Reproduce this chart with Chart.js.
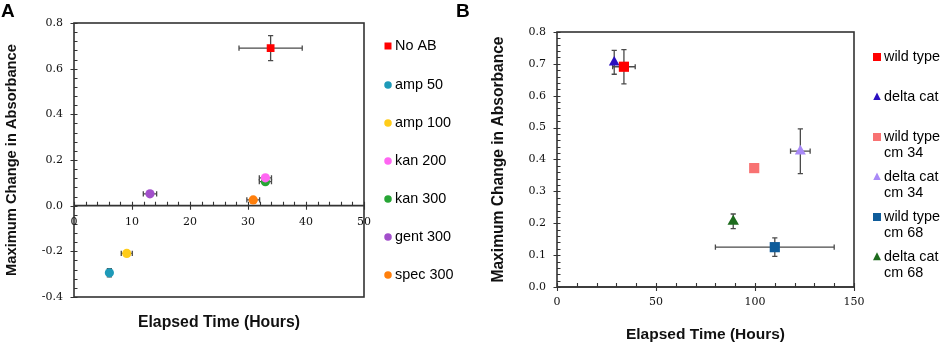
<!DOCTYPE html>
<html><head><meta charset="utf-8">
<script src="https://cdn.jsdelivr.net/npm/chart.js@4"></script>
<style>
html,body{margin:0;padding:0;background:#fff;width:941px;height:346px;overflow:hidden;}
#wa{position:absolute;left:0;top:0;width:470px;height:346px;}
#wb{position:absolute;left:470px;top:0;width:471px;height:346px;}
.panel{position:absolute;font:bold 19px "Liberation Sans",Arial,sans-serif;color:#000;line-height:19px;}
</style></head><body>
<div id="wa"><canvas id="ca" width="470" height="346"></canvas></div>
<div id="wb"><canvas id="cb" width="471" height="346"></canvas></div>
<div class="panel" style="left:1px;top:1px">A</div>
<div class="panel" style="left:456px;top:1px">B</div>
<script>
// ---------- Panel A data ----------
const aLabels = ['No AB', 'amp 50', 'amp 100', 'kan 200', 'kan 300', 'gent 300', 'spec 300'];
const aTime = [33.9, 6.1, 9.1, 33.0, 33.0, 13.1, 30.9];
const aAbs = [0.690, -0.294, -0.209, 0.122, 0.105, 0.052, 0.025];
const aTimeErr = [5.45, 0, 0.95, 1.05, 1.05, 1.15, 1.1];
const aAbsErr = [0.055, 0.018, 0.012, 0, 0, 0, 0];
const aXTicks = [0, 10, 20, 30, 40, 50];
const aYTicks = [-0.4, -0.2, 0.0, 0.2, 0.4, 0.6, 0.8];

// ---------- Panel B data ----------
const bLabels = [['wild type'], ['delta cat'], ['wild type', 'cm 34'], ['delta cat', 'cm 34'], ['wild type', 'cm 68'], ['delta cat', 'cm 68']];
const bTime = [33.8, 28.9, 99.6, 122.9, 110.0, 89.0];
const bAbs = [0.691, 0.705, 0.373, 0.426, 0.125, 0.206];
const bTimeErr = [5.7, 0, 0, 4.95, 30, 0];
const bAbsErr = [0.054, 0.0375, 0, 0.07, 0.029, 0.023];
const bXTicks = [0, 50, 100, 150];
const bYTicks = [0.0, 0.1, 0.2, 0.3, 0.4, 0.5, 0.6, 0.7, 0.8];

// ---------- styles ----------
const aColors = ['#FF0000', '#1E9AB8', '#FFCC1A', '#FF66F2', '#27A535', '#A24FCB', '#FF7F0C'];
const aShapes = ['rect', 'circle', 'circle', 'circle', 'circle', 'circle', 'circle'];
const aRadius = [5.5, 4.6, 4.6, 4.6, 4.6, 4.6, 4.6];
const bColors = ['#FF0000', '#2A0FC0', '#F87272', '#A98AF7', '#0F5C9A', '#1D6B1D'];
const bShapes = ['rect', 'triangle', 'rect', 'triangle', 'rect', 'triangle'];
const bRadius = [7.2, 6.2, 7.2, 6.4, 7.2, 6.6];

const TICK_FONT = { family: 'DejaVu Serif', size: 11 };
const INK = '#333333';

function drawMarker(ctx, shape, x, y, size, color) {
  ctx.save();
  ctx.fillStyle = color;
  ctx.beginPath();
  if (shape === 'rect') {
    ctx.rect(x - size / 2, y - size / 2, size, size);
  } else if (shape === 'triangle') {
    ctx.moveTo(x, y - size * 0.6);
    ctx.lineTo(x + size * 0.5, y + size * 0.4);
    ctx.lineTo(x - size * 0.5, y + size * 0.4);
    ctx.closePath();
  } else {
    ctx.arc(x, y, size / 2, 0, Math.PI * 2);
  }
  ctx.fill();
  ctx.restore();
}

// error bars, box, tick marks, legend
const decor = {
  id: 'decor',
  beforeDatasetsDraw(chart, args, o) {
    const ctx = chart.ctx, xs = chart.scales.x, ys = chart.scales.y;
    ctx.save();
    ctx.strokeStyle = '#4a4a4a';
    ctx.lineWidth = 1.3;
    const cap = 2.6;
    chart.data.datasets.forEach((ds, i) => {
      const p = ds.data[0];
      const px = xs.getPixelForValue(p.x), py = ys.getPixelForValue(p.y);
      const ex = o.xErr[i], ey = o.yErr[i];
      if (ex > 0) {
        const l = xs.getPixelForValue(p.x - ex), r = xs.getPixelForValue(p.x + ex);
        ctx.beginPath();
        ctx.moveTo(l, py); ctx.lineTo(r, py);
        ctx.moveTo(l, py - cap); ctx.lineTo(l, py + cap);
        ctx.moveTo(r, py - cap); ctx.lineTo(r, py + cap);
        ctx.stroke();
      }
      if (ey > 0) {
        const t = ys.getPixelForValue(p.y + ey), b = ys.getPixelForValue(p.y - ey);
        ctx.beginPath();
        ctx.moveTo(px, t); ctx.lineTo(px, b);
        ctx.moveTo(px - cap, t); ctx.lineTo(px + cap, t);
        ctx.moveTo(px - cap, b); ctx.lineTo(px + cap, b);
        ctx.stroke();
      }
    });
    ctx.restore();
  },
  beforeDraw(chart, args, o) {
    const ctx = chart.ctx, a = chart.chartArea, xs = chart.scales.x, ys = chart.scales.y;
    ctx.save();
    ctx.strokeStyle = INK;
    ctx.lineWidth = 1.6;
    ctx.strokeRect(a.left, a.top, a.right - a.left, a.bottom - a.top);
    const axisY = ys.getPixelForValue(o.xAxisAt);
    ctx.beginPath();
    ctx.moveTo(a.left, axisY); ctx.lineTo(a.right, axisY);
    ctx.stroke();
    ctx.lineWidth = 1.1;
    ctx.beginPath();
    for (let v = ys.min; v <= ys.max + 1e-9; v += o.yMinor) {
      const py = Math.round(ys.getPixelForValue(v)) + 0.5;
      const isMajor = Math.abs(Math.round(v / o.yMajor) * o.yMajor - v) < 1e-6;
      ctx.moveTo(a.left + (isMajor ? -3.5 : 0), py);
      ctx.lineTo(a.left + 3.5, py);
    }
    for (let v = xs.min; v <= xs.max + 1e-9; v += o.xMinor) {
      const px = Math.round(xs.getPixelForValue(v)) + 0.5;
      const isMajor = Math.abs(Math.round(v / o.xMajor) * o.xMajor - v) < 1e-6;
      ctx.moveTo(px, axisY - 4);
      ctx.lineTo(px, axisY + (isMajor ? 4 : 0));
    }
    ctx.stroke();
    ctx.restore();
  },
  afterDraw(chart, args, o) {
    const ctx = chart.ctx;
    ctx.save();
    ctx.font = '14.4px "Liberation Sans", Arial, sans-serif';
    ctx.fillStyle = '#000';
    ctx.textBaseline = 'middle';
    chart.data.datasets.forEach((ds, i) => {
      const y = o.legendY[i];
      drawMarker(ctx, ds.pointStyle, o.legendX, y, o.legendSize[i], ds.backgroundColor);
      const lines = Array.isArray(ds.label) ? ds.label : [ds.label];
      lines.forEach((ln, k) => ctx.fillText(ln, o.legendX + 7, y + k * o.lineH));
    });
    ctx.restore();
  }
};

function makeChart(id, cfg) {
  const datasets = cfg.labels.map((lab, i) => ({
    label: lab,
    data: [{ x: cfg.time[i], y: cfg.abs[i] }],
    pointStyle: cfg.shapes[i],
    pointRadius: cfg.radius[i],
    pointHoverRadius: cfg.radius[i],
    backgroundColor: cfg.colors[i],
    borderColor: cfg.colors[i],
    borderWidth: 0,
    showLine: false
  }));
  const yFmt = v => Number(v).toFixed(1);
  const scales = {
    x: {
      type: 'linear', min: cfg.xTicks[0], max: cfg.xTicks[cfg.xTicks.length - 1],
      position: 'bottom',
      afterBuildTicks: s => { s.ticks = cfg.xTicks.map(v => ({ value: v })); },
      ticks: { display: cfg.xLabelsOnBottom, font: TICK_FONT, color: '#111', padding: 9, maxRotation: 0, autoSkip: false },
      grid: { display: false, drawTicks: false },
      border: { display: false },
      title: { display: true, text: 'Elapsed Time (Hours)', font: { family: 'Liberation Sans', size: cfg.xTitleSize, weight: 'bold' }, color: '#111', padding: { top: 0, bottom: cfg.xTitlePad } },
      afterFit: s => { s.height = cfg.bottomH; }
    },
    y: {
      type: 'linear', min: cfg.yTicks[0], max: cfg.yTicks[cfg.yTicks.length - 1],
      afterBuildTicks: s => { s.ticks = cfg.yTicks.map(v => ({ value: v })); },
      ticks: { font: TICK_FONT, color: '#111', padding: 11, callback: yFmt, autoSkip: false },
      grid: { display: false, drawTicks: false },
      border: { display: false },
      title: { display: true, text: 'Maximum Change in Absorbance', font: { family: 'Liberation Sans', size: cfg.yTitleSize, weight: 'bold' }, color: '#111', padding: { top: cfg.yTitlePad, bottom: 0 } },
      afterFit: s => { s.width = cfg.leftW; }
    }
  };
  if (!cfg.xLabelsOnBottom) {
    scales.x2 = {
      type: 'linear', axis: 'x', min: cfg.xTicks[0], max: cfg.xTicks[cfg.xTicks.length - 1],
      position: { y: 0 },
      afterBuildTicks: s => { s.ticks = cfg.xTicks.map(v => ({ value: v })); },
      ticks: { font: TICK_FONT, color: '#111', padding: 10, maxRotation: 0, autoSkip: false },
      grid: { display: false, drawTicks: false },
      border: { display: false }
    };
  }
  return new Chart(document.getElementById(id), {
    type: 'scatter',
    data: { datasets },
    options: {
      responsive: false,
      animation: false,
      events: [],
      layout: { padding: { left: 0, right: cfg.rightPad, top: cfg.topPad, bottom: 0 } },
      plugins: {
        legend: { display: false },
        tooltip: { enabled: false },
        decor: cfg.decor
      },
      scales
    },
    plugins: [decor]
  });
}

makeChart('ca', {
  labels: aLabels, time: aTime, abs: aAbs, colors: aColors, shapes: aShapes, radius: aRadius,
  xTicks: aXTicks, yTicks: aYTicks, xLabelsOnBottom: false,
  leftW: 74, bottomH: 49, rightPad: 106, topPad: 23, xTitlePad: 14, yTitlePad: 3,
  xTitleSize: 15.8, yTitleSize: 14.7,
  decor: {
    xErr: aTimeErr, yErr: aAbsErr, xAxisAt: 0,
    xMajor: 10, xMinor: 2, yMajor: 0.2, yMinor: 0.04,
    legendX: 388, legendY: [46, 85, 123, 161, 199, 237, 275], lineH: 17,
    legendSize: [7, 7.5, 7.5, 7.5, 7.5, 7.5, 7.5]
  }
});

makeChart('cb', {
  labels: bLabels, time: bTime, abs: bAbs, colors: bColors, shapes: bShapes, radius: bRadius,
  xTicks: bXTicks, yTicks: bYTicks, xLabelsOnBottom: true,
  leftW: 87, bottomH: 59, rightPad: 87, topPad: 32, xTitlePad: 2, yTitlePad: 19,
  xTitleSize: 15.5, yTitleSize: 15.6,
  decor: {
    xErr: bTimeErr, yErr: bAbsErr, xAxisAt: 0,
    xMajor: 50, xMinor: 10, yMajor: 0.1, yMinor: 0.02,
    legendX: 407, legendY: [57, 97, 137, 177, 217, 257], lineH: 16.5,
    legendSize: [8, 7.5, 8, 7.5, 8, 8]
  }
});
</script>
</body></html>
